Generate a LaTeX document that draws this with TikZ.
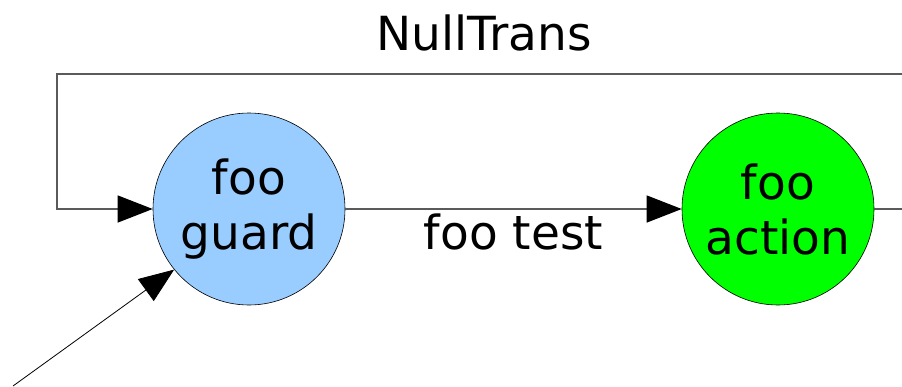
\documentclass[tikz,border=0pt]{standalone}
\usepackage{fontspec}
\setmainfont{DejaVu Sans}
\usetikzlibrary{arrows.meta,positioning}
\definecolor{guardblue}{RGB}{153,204,255}
\definecolor{actiongreen}{RGB}{0,255,0}
\definecolor{linegray}{RGB}{90,90,90}

\begin{document}
\begin{tikzpicture}[x=1pt, y=-1pt,
    state/.style={draw, circle, line width=0.6pt, minimum size=192pt, inner sep=0pt, align=center,
        font=\fontsize{47}{55}\selectfont},
    trans/.style={draw=linegray, line width=1.2pt, -{Triangle[length=35pt,width=27pt,fill=black,color=black]}},
    label/.style={font=\fontsize{47}{55}\selectfont}
]
    \useasboundingbox (0,0) rectangle (902,386);

    \node[state, fill=guardblue] (guard) at (249,209) {foo\\guard};
    \node[state, fill=actiongreen] (action) at (778,209) {foo\\action};

    \coordinate (topright) at (902,74);
    \coordinate (topleft) at (57,74);
    \coordinate (loopin) at (57,209);
    \coordinate (outright) at (902,209);
    \coordinate (start) at (13,386);

    % transitions
    \draw[trans] (guard) -- (action) node[label, midway, below=1pt] (test) {foo test};
    \draw[trans] (topright) -- (topleft) -- (loopin) -- (guard);
    \draw[draw=linegray, line width=1.2pt] (action) -- (outright);
    \draw[trans, line width=0.8pt, draw=black] (start) -- (guard.219);

    \node[label] (null) at (484,33) {NullTrans};
\end{tikzpicture}
\end{document}
